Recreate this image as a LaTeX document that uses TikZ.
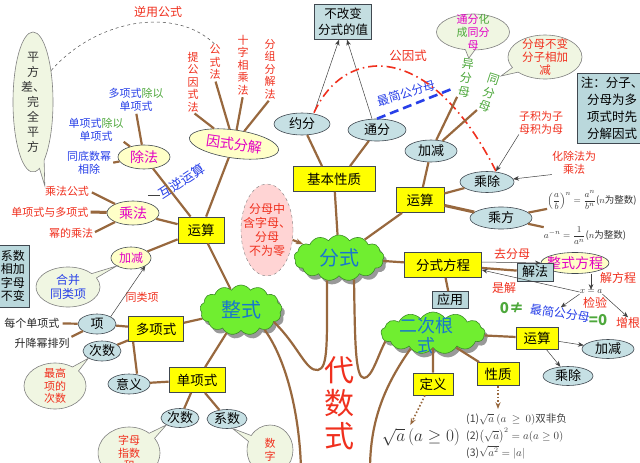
\documentclass[tikz,border=0pt]{standalone}
\usepackage{fontspec}
\usepackage{amsmath}
\setmainfont{Noto Sans CJK SC}
\usetikzlibrary{arrows.meta,positioning,shapes.geometric,shapes.symbols,shapes.callouts,shadows}
\definecolor{trunk}{RGB}{152,104,62}
\definecolor{boxyellow}{RGB}{255,255,0}
\definecolor{ovalblue}{RGB}{198,224,228}
\definecolor{ovalyellow}{RGB}{255,255,200}
\definecolor{tagblue}{RGB}{186,216,220}
\definecolor{bubblefill}{RGB}{240,246,226}
\definecolor{leaf}{RGB}{112,238,48}
\definecolor{leafline}{RGB}{60,140,40}
\definecolor{skyblue}{RGB}{24,118,206}
\definecolor{redtext}{RGB}{240,48,30}
\definecolor{greentext}{RGB}{78,168,60}
\definecolor{bluetext}{RGB}{40,64,232}
\definecolor{magtext}{RGB}{226,0,196}
\definecolor{edge}{RGB}{64,72,80}
\definecolor{pinkfill}{RGB}{255,212,212}
\newcommand{\fsz}[2]{\fontsize{#1}{#2}\selectfont}
\tikzset{
  kbox/.style={draw=edge,line width=0.8pt,fill=boxyellow,inner sep=0pt,font=\fsz{13.5}{15}},
  oval/.style={ellipse,draw=edge,line width=0.6pt,fill=ovalblue,inner sep=0pt,font=\fsz{13}{15}},
  yoval/.style={ellipse,draw=edge,line width=0.6pt,fill=ovalyellow,inner sep=0pt,text=magtext,font=\fsz{14}{16}},
  tag/.style={draw=edge,line width=0.6pt,fill=tagblue,inner sep=0pt,align=center,font=\fsz{13}{15}},
  bubble/.style={ellipse callout,draw=gray,line width=0.6pt,fill=bubblefill,align=center,inner sep=-4pt,text=redtext,font=\fsz{11}{12.5}},
  leafy/.style={cloud,cloud puffs=13,cloud puff arc=115,cloud ignores aspect,draw=leafline,line width=0.6pt,fill=leaf,text=skyblue,inner sep=0pt,align=center,drop shadow={shadow xshift=3pt,shadow yshift=-4pt,fill=gray,opacity=0.8},font=\fsz{20}{21}},
  lbl/.style={align=center,inner sep=0pt,text=redtext,font=\fsz{11}{12.5}},
  link/.style={draw=trunk,line width=2.2pt},
  ptr/.style={-{Stealth[length=2mm,width=1.6mm]},draw=black!75,line width=0.5pt},
  dotptr/.style={-{Stealth[length=2.4mm]},draw=trunk,line width=1.6pt,dotted},
}
\begin{document}
\begin{tikzpicture}[x=1pt,y=-1pt]
  \useasboundingbox (0,0) rectangle (640,463);
  \fill[white] (0,0) rectangle (640,463);

  % left: factorising, multiplying, dividing
  \node[lbl,font=\fsz{12}{14}] (niyong) at (158,12) {逆用公式};
  \node[lbl] (tigong) at (193,82) {提\\公\\因\\式\\法};
  \node[lbl] (gongshifa) at (215,62) {公\\式\\法};
  \node[lbl] (shizi) at (243,65) {十\\字\\相\\乘\\法};
  \node[lbl] (fenzu) at (270,69) {分\\组\\分\\解\\法};
  \node[yoval,minimum width=90,minimum height=28,rotate=-8] (yinshi) at (234,144) {因式分解};
  \node[lbl] (cfgs) at (67,191) {乘法公式};
  \node[bubble,text=black!80,font=\fsz{12}{15},minimum width=40,minimum height=140,callout absolute pointer={(cfgs.north west)}] (pingfang) at (33,102) {平\\方\\差、\\完\\全\\平\\方};
  \draw[dashed,black!70,line width=0.5pt] (pingfang.60) .. controls (95,20) and (175,5) .. (gongshifa.north);

  \node[yoval,minimum width=52,minimum height=24] (chufa) at (144,157) {除法};
  \node[lbl,font=\fsz{11}{13}] (dxcd) at (136,100) {\textcolor{bluetext}{多项式}\textcolor{greentext}{除以}\\\textcolor{bluetext}{单项式}};
  \node[lbl,font=\fsz{11}{13}] (dcd) at (96,130) {\textcolor{bluetext}{单项式}\textcolor{greentext}{除以}\\\textcolor{bluetext}{单项式}};
  \node[lbl,text=bluetext,font=\fsz{11}{13}] (tdsx) at (89,163) {同底数幂\\相除};
  \node[yoval,minimum width=52,minimum height=24] (chengfa) at (133,213) {乘法};
  \node[lbl] (dydx) at (50,212) {单项式与多项式};
  \node[lbl] (mide) at (71,233) {幂的乘法};
  \node[kbox,minimum width=46,minimum height=26] (yunsuan1) at (201,230) {运算};
  \node[yoval,minimum width=40,minimum height=22,font=\fsz{12}{14}] (jiajian1) at (131,258) {加减};
  \node[bubble,text=bluetext,font=\fsz{12}{14},minimum width=64,minimum height=40,callout absolute pointer={(jiajian1.south west)}] (hebing) at (68,287) {合并\\同类项};
  \node[tag,font=\fsz{12}{13.5},minimum width=32,minimum height=62] (xishuxj) at (13,276) {系数\\相加\\字母\\不变};
  \node[lbl,text=bluetext,font=\fsz{13}{15},rotate=33] (huni) at (182,181) {互逆运算};
  \draw[black!75,line width=1pt] (huni.west) -- ++(-12,0);

  % bottom left: polynomial and monomial
  \node[lbl,text=black!85] (meige) at (32,323) {每个单项式};
  \node[oval,minimum width=38,minimum height=20] (xiang) at (97,324) {项};
  \node[lbl,text=black!85] (shengjiang) at (42,343) {升降幂排列};
  \node[oval,minimum width=38,minimum height=20] (cishu1) at (102,351) {次数};
  \node[kbox,minimum width=55,minimum height=25] (duoxiang) at (156,329) {多项式};
  \node[bubble,minimum width=62,minimum height=46,callout absolute pointer={(cishu1.south west)}] (zuigao) at (55,386) {最高\\项的\\次数};
  \node[oval,minimum width=42,minimum height=20] (yiyi) at (129,384) {意义};
  \node[kbox,minimum width=56,minimum height=25] (danxiang) at (197,380) {单项式};
  \node[oval,minimum width=38,minimum height=19] (cishu2) at (180,418) {次数};
  \node[oval,minimum width=40,minimum height=19] (xishu) at (227,419) {系数};
  \node[bubble,minimum width=62,minimum height=52,callout absolute pointer={(cishu2.south west)}] (zimu) at (129,453) {字母\\指数\\和};
  \node[bubble,minimum width=46,minimum height=50,callout absolute pointer={(xishu.-60)}] (shuzi) at (270,450) {数\\字};
  \node[lbl] (tonglei) at (142,297) {同类项};

  % clouds and trunk
  \node[leafy,minimum width=82,minimum height=50] (zhengshi) at (241,310) {整式};
  \node[leafy,minimum width=90,minimum height=46] (fenshi) at (339,258) {分式};
  \node[leafy,minimum width=104,minimum height=42] (ergen) at (433,333) {};
  \node[inner sep=0pt,align=center,text=skyblue,font=\fsz{18}{20}] (ergentxt) at (426,336) {二次根\\式};
  \node[lbl,font=\fsz{30}{33}] (daishu) at (339,403) {代\\数\\式};
  \node[ellipse,draw=gray,dashed,fill=pinkfill,inner sep=-8pt,minimum width=52,minimum height=92,align=center,text=redtext,font=\fsz{12}{14}] (fenmu) at (267,230) {分母中\\含字母、\\分母\\不为零};
  \coordinate (rootL) at (301,470);
  \coordinate (rootR) at (370,470);

  % fraction: basic property
  \node[tag,font=\fsz{12.5}{16},fill=tagblue!85,minimum width=57,minimum height=35] (bugai) at (343,22) {不改变\\分式的值};
  \node[oval,minimum width=56,minimum height=22] (yuefen) at (302,124) {约分};
  \node[oval,minimum width=58,minimum height=22] (tongfen) at (377,130) {通分};
  \node[kbox,minimum width=82,minimum height=25] (jiben) at (334,179) {基本性质};
  \node[lbl,font=\fsz{12.5}{14}] (gongyin) at (408,56) {公因式};
  \node[lbl,text=bluetext,font=\fsz{12}{14},rotate=17] (zjgfm1) at (406,93) {最简公分母};

  % fraction: operations
  \node[oval,minimum width=52,minimum height=22] (jiajian2) at (431,151) {加减};
  \node[lbl,text=greentext,font=\fsz{12}{14.5},rotate=-8] (yifenmu) at (466,78) {异\\分\\母};
  \node[lbl,text=greentext,font=\fsz{12}{14.5},rotate=-18] (tongfenmu) at (489,93) {同\\分\\母};
  \node[bubble,font=\fsz{11}{13},inner sep=-10pt,minimum width=73,minimum height=36,callout absolute pointer={(yifenmu.north)}] (huacheng) at (473,32) {\textcolor{magtext}{通分}\textcolor{greentext}{化}\\\textcolor{greentext}{成}\textcolor{magtext}{同分}\\\textcolor{magtext}{母}};
  \node[bubble,font=\fsz{11.5}{13},inner sep=-8pt,minimum width=74,minimum height=44,callout absolute pointer={(tongfenmu.north east)}] (xiangjia) at (545,57) {分母不变\\分子相加\\减};
  \node[tag,font=\fsz{12.5}{17},minimum width=70,minimum height=70] (zhu) at (612,108) {注：分子、\\分母为多\\项式时先\\分解因式};
  \node[lbl] (ziji) at (541,123) {子积为子\\母积为母};
  \node[lbl] (huachu) at (574,163) {化除法为\\乘法};
  \node[oval,minimum width=54,minimum height=21] (chengchu) at (487,182) {乘除};
  \node[kbox,minimum width=48,minimum height=25] (yunsuan2) at (420,200) {运算};
  \node[oval,minimum width=62,minimum height=22] (chengfang) at (501,218) {乘方};
  \node[inner sep=0pt,font=\fsz{9.5}{12},text=black!80] (fm1) at (592,200) {$\left(\dfrac{a}{b}\right)^{n}=\dfrac{a^{n}}{b^{n}}$($n$为整数)};
  \node[inner sep=0pt,font=\fsz{9.5}{12},text=black!80] (fm2) at (585,236) {$a^{-n}=\dfrac{1}{a^{n}}$($n$为整数)};

  % fractional equation
  \node[kbox,minimum width=77,minimum height=25] (fsfc) at (443,265) {分式方程};
  \node[yoval,inner xsep=-4pt,minimum width=66,minimum height=21,font=\fsz{14}{16}] (zsfc) at (575,263) {整式方程};
  \node[tag,minimum width=36,minimum height=18] (jiefa) at (535,272) {解法};
  \node[lbl,font=\fsz{12}{14}] (qufenmu) at (512,254) {去分母};
  \node[inner sep=0pt,font=\fsz{9}{11},text=black!80] (xa) at (591,292) {$x=a$};
  \node[lbl,font=\fsz{12}{14}] (jiefc) at (618,278) {解方程};
  \node[lbl,font=\fsz{12}{14}] (jianyan) at (595,303) {检验};
  \node[lbl,font=\fsz{12}{14}] (zenggen) at (628,323) {增根};
  \node[lbl,font=\fsz{12}{14}] (shijie) at (504,288) {是解};
  \node[lbl,text=greentext,font=\fsz{15}{17}\bfseries] (buling) at (512,308) {0≠};
  \node[lbl,text=bluetext,font=\fsz{12}{14},rotate=-8] (zjgfm2) at (560,313) {最简公分母};
  \node[lbl,text=greentext,font=\fsz{15}{17}\bfseries] (dengling) at (598,320) {=0};
  \node[tag,minimum width=36,minimum height=17] (yingyong) at (450,300) {应用};

  % quadratic radical
  \node[kbox,minimum width=42,minimum height=22] (yunsuan3) at (537,338) {运算};
  \node[oval,minimum width=52,minimum height=19] (jiajian3) at (608,349) {加减};
  \node[oval,minimum width=50,minimum height=19] (chengchu3) at (568,376) {乘除};
  \node[kbox,minimum width=42,minimum height=23] (xingzhi) at (498,374) {性质};
  \node[kbox,minimum width=40,minimum height=22] (dingyi) at (433,384) {定义};
  \node[inner sep=0pt,font=\fsz{16}{18},text=black!80] (dyf) at (421,437) {$\sqrt{a}\,(a\geq 0)$};
  \node[inner sep=0pt,align=left,anchor=west,font=\fsz{10.5}{17},text=black!75] (xzf) at (466,436) {(1)$\sqrt{a}\ (a\ \geq\ 0)$双非负\\(2)$\bigl(\sqrt{a}\bigr)^{2}=a(a\geq 0)$\\(3)$\sqrt{a^{2}}=|a|$};

  % connectors
  \draw[link,shorten <=2pt] (tigong.south) -- (yinshi);
  \draw[link,shorten <=2pt] (gongshifa.south) -- (yinshi);
  \draw[link,shorten <=2pt] (shizi.south) -- (yinshi);
  \draw[link,shorten <=2pt] (fenzu.south) -- (yinshi);
  \draw[link,shorten <=2pt] (dxcd.south) -- (chufa);
  \draw[link] (dcd.south east) -- (chufa);
  \draw[link,shorten <=2pt] (tdsx.east) -- (chufa);
  \draw[link,shorten <=3pt] (cfgs.east) -- (chengfa);
  \draw[link,line width=3pt,shorten <=2pt] (dydx.east) -- (chengfa);
  \draw[link,shorten <=2pt] (mide.east) -- (chengfa);
  \draw[link] (chufa) -- (yunsuan1);
  \draw[link] (chengfa) -- (yunsuan1);
  \draw[link] (jiajian1) -- (yunsuan1);
  \draw[link] (yinshi) -- (yunsuan1);
  \draw[link] (yunsuan1) -- (zhengshi);
  \draw[ptr] (xiang.north east) -- (jiajian1.south east);

  \draw[link,shorten <=3pt] (meige) -- (xiang);
  \draw[link,shorten <=2pt] (shengjiang.north east) -- (xiang);
  \draw[link] (xiang) -- (duoxiang);
  \draw[link] (cishu1) -- (duoxiang);
  \draw[link] ([xshift=5pt]duoxiang.south west) -- ([xshift=8pt]yiyi.north);
  \draw[link] (yiyi) -- (danxiang);
  \draw[link] (duoxiang) -- (zhengshi);
  \draw[link] (danxiang) -- (zhengshi);
  \draw[link] ([xshift=-6pt]danxiang.south) -- (cishu2);
  \draw[link] ([xshift=8pt]danxiang.south) -- (xishu);

  \draw[link] (zhengshi.-40) .. controls (288,362) and (300,420) .. (rootL);
  \draw[link] (zhengshi.-20) .. controls (298,345) and (306,372) .. (318,370) .. controls (328,368) and (327,345) .. (fenshi.-118);
  \draw[link] (fenshi.-55) .. controls (355,340) and (355,378) .. (364,378) .. controls (372,378) and (378,355) .. (ergen.190);
  \draw[link] (ergen.215) .. controls (385,385) and (370,420) .. (rootR);
  \draw[link,-{Stealth[length=2.6mm]}] (fenmu) -- (fenshi);

  \draw[link] (fenshi) -- (jiben);
  \draw[link] (yuefen) -- ([xshift=-12pt]jiben.north);
  \draw[link] (tongfen) -- ([xshift=16pt]jiben.north);
  \draw[ptr] ([xshift=12pt]yuefen.north) -- ([xshift=-4pt]bugai.south);
  \draw[ptr] ([xshift=-5pt]tongfen.north) -- ([xshift=4pt]bugai.south);
  \draw[redtext,line width=1.6pt,dash pattern=on 9pt off 4pt on 1.5pt off 4pt] ([xshift=12pt]yuefen.north) .. controls (345,45) and (430,40) .. ([xshift=9pt]chengchu.north);
  \draw[bluetext,line width=2.6pt,dash pattern=on 9pt off 5pt] (tongfen.north) -- ++(78,-31);

  \draw[link] (jiajian2) -- (yifenmu.south west);
  \draw[link] (jiajian2) -- (tongfenmu.south west);
  \draw[link] (jiajian2) -- (yunsuan2);
  \draw[link] (yunsuan2) -- (chengchu);
  \draw[link,line width=3pt] (yunsuan2) -- (chengfang);
  \draw[link] (fenshi) -- (yunsuan2);
  \draw[link] (chengfang) -- (fm1);
  \draw[link] (chengfang) -- (fm2);
  \draw[ptr] (ziji.south west) -- ([xshift=9pt]chengchu.north);
  \draw[ptr] (huachu.south west) -- (chengchu);

  \draw[link] (fenshi) -- (fsfc);
  \draw[ptr] ([yshift=3pt]fsfc.east) -- (zsfc.west);
  \draw[link] (fsfc) -- (jiefa);
  \draw[ptr] ([xshift=16pt]zsfc.south) -- (xa.north);
  \draw[ptr] (xa.west) -- ([yshift=-5pt]fsfc.east);
  \draw[ptr] (xa.south west) -- (zjgfm2.north);
  \draw[ptr] (xa.south east) -- (zenggen.north);
  \draw[link] (fsfc) -- (yingyong);

  \draw[link] (ergen) -- (yunsuan3);
  \draw[link] (ergen) -- (xingzhi);
  \draw[link] (ergen) -- (dingyi);
  \draw[ptr] (yunsuan3) -- (jiajian3);
  \draw[ptr] (yunsuan3) -- (chengchu3);
  \draw[dotptr,shorten >=3pt] ([xshift=-8pt]dingyi.south) -- ([xshift=-12pt]dyf.north);
  \draw[dotptr,shorten >=4pt] (xingzhi.south) -- (xingzhi.south |- xzf.north);
\end{tikzpicture}
\end{document}
